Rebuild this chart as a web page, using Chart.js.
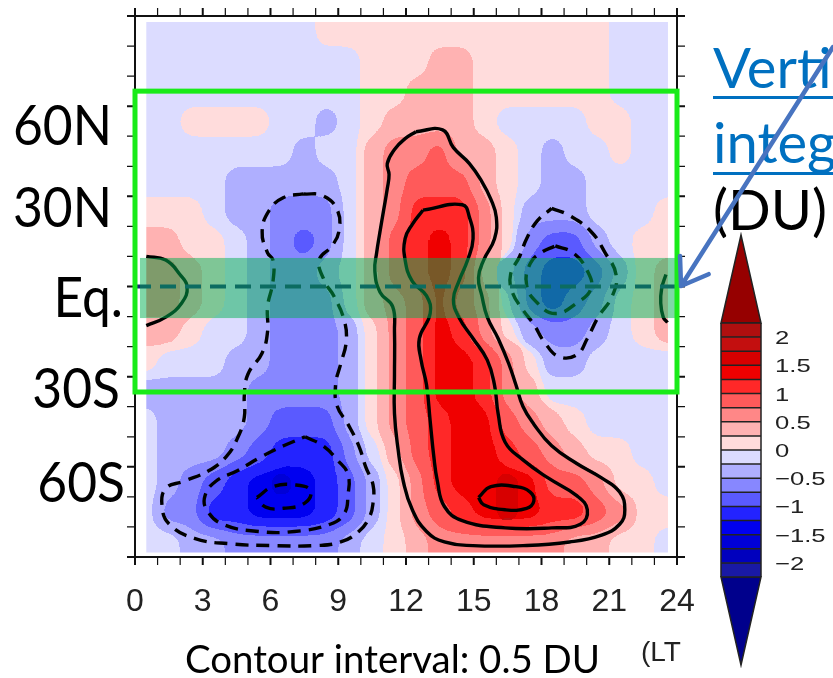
<!DOCTYPE html>
<html>
<head>
<meta charset="utf-8">
<script src="https://cdn.jsdelivr.net/npm/chart.js@4.4.1/dist/chart.umd.min.js"></script>
<style>
  html, body { margin: 0; padding: 0; background: #fff; }
  canvas { display: block; }
</style>
</head>
<body>
<canvas id="myChart" width="833" height="678"></canvas>
<script>
// grid cell centres: local time (h) and latitude (deg)
const ltCenters = [0.5, 1.5, 2.5, 3.5, 4.5, 5.5, 6.5, 7.5, 8.5, 9.5, 10.5, 11.5,
    12.5, 13.5, 14.5, 15.5, 16.5, 17.5, 18.5, 19.5, 20.5, 21.5, 22.5, 23.5];
const latCenters = [85, 75, 65, 55, 45, 35, 25, 15, 5, -5, -15, -25, -35, -45, -55, -65, -75, -85];

// ozone anomaly (DU), one row per latitude, north to south
const field = [
    [-0.1, -0.1, -0.1, -0.1, -0.1, -0.1, -0.1, -0.1, 0.1, 0.1, 0.1, 0.1, 0.1, 0.1, 0.1, 0.1, 0.1, 0.1, 0.1, 0.1, 0.1, -0.05, -0.1, -0.1],
    [-0.1, -0.1, -0.1, -0.1, -0.1, -0.1, -0.1, -0.1, -0.1, -0.05, 0.1, 0.15, 0.2, 0.3, 0.3, 0.2, 0.1, 0.1, 0.1, 0.1, 0.1, -0.05, -0.1, -0.1],
    [-0.1, -0.1, -0.1, -0.1, -0.1, -0.1, -0.1, -0.1, -0.1, -0.05, 0.1, 0.15, 0.3, 0.35, 0.25, 0.1, 0.05, 0.05, 0.05, 0.05, 0.05, -0.05, -0.1, -0.1],
    [-0.1, -0.1, 0.05, 0.05, 0.05, 0.05, -0.15, -0.2, -0.3, -0.1, 0.15, 0.35, 0.45, 0.45, 0.35, 0.15, -0.05, -0.1, -0.1, -0.05, 0.05, 0.05, -0.1, -0.1],
    [-0.1, -0.1, -0.1, -0.1, -0.1, -0.1, -0.15, -0.3, -0.25, -0.05, 0.25, 0.5, 0.7, 0.75, 0.45, 0.25, 0.05, -0.2, -0.3, -0.2, -0.05, 0.05, -0.05, -0.1],
    [-0.1, -0.1, -0.15, -0.25, -0.3, -0.35, -0.45, -0.45, -0.4, -0.15, 0.3, 0.6, 0.85, 0.95, 0.8, 0.45, 0.1, -0.25, -0.4, -0.3, -0.1, -0.05, -0.05, -0.1],
    [0.1, 0.1, 0.05, -0.1, -0.3, -0.45, -0.65, -0.75, -0.6, -0.25, 0.35, 0.7, 1.0, 1.15, 1.0, 0.65, 0.2, -0.3, -0.5, -0.4, -0.2, -0.05, -0.05, 0.05],
    [0.35, 0.3, 0.2, 0.05, -0.15, -0.45, -0.7, -0.8, -0.6, -0.2, 0.4, 0.8, 1.2, 1.35, 1.1, 0.7, 0.1, -0.55, -0.9, -0.8, -0.5, -0.2, 0.05, 0.15],
    [0.65, 0.55, 0.35, 0.1, -0.15, -0.4, -0.6, -0.7, -0.45, -0.1, 0.45, 0.8, 1.15, 1.3, 1.0, 0.4, -0.35, -1.0, -1.2, -1.1, -0.8, -0.35, 0.05, 0.45],
    [0.6, 0.55, 0.35, 0.15, -0.1, -0.35, -0.55, -0.65, -0.55, -0.2, 0.3, 0.7, 0.95, 1.3, 0.85, 0.5, -0.1, -0.8, -1.15, -1.0, -0.7, -0.25, 0.05, 0.45],
    [0.4, 0.25, 0.1, -0.05, -0.2, -0.4, -0.65, -0.75, -0.7, -0.4, 0.1, 0.5, 0.9, 1.3, 1.1, 0.65, 0.2, -0.35, -0.65, -0.6, -0.35, -0.1, 0.1, 0.25],
    [0.05, -0.05, -0.1, -0.2, -0.3, -0.5, -0.6, -0.65, -0.6, -0.35, 0.1, 0.5, 0.95, 1.35, 1.35, 1.05, 0.55, 0.15, -0.3, -0.35, -0.2, -0.1, -0.05, -0.05],
    [-0.3, -0.3, -0.3, -0.35, -0.45, -0.55, -0.6, -0.6, -0.55, -0.3, 0.05, 0.5, 0.85, 1.3, 1.45, 1.2, 0.7, 0.35, -0.05, -0.25, -0.15, -0.1, -0.05, -0.2],
    [-0.25, -0.3, -0.35, -0.4, -0.5, -0.7, -0.85, -0.9, -0.8, -0.45, 0.05, 0.5, 0.85, 1.2, 1.45, 1.35, 0.95, 0.55, 0.25, 0.05, -0.1, -0.1, -0.1, -0.1],
    [-0.2, -0.3, -0.35, -0.45, -0.6, -0.85, -1.1, -1.2, -1.05, -0.7, -0.15, 0.45, 0.8, 1.1, 1.4, 1.45, 1.05, 0.8, 0.55, 0.25, 0.1, 0.05, -0.05, -0.1],
    [-0.2, -0.4, -0.6, -0.9, -1.2, -1.35, -1.55, -1.4, -1.2, -0.8, -0.4, 0.2, 0.65, 1.05, 1.3, 1.45, 1.55, 1.3, 0.95, 0.75, 0.55, 0.2, 0.05, -0.05],
    [-0.15, -0.55, -0.75, -1.1, -1.25, -1.4, -1.5, -1.4, -1.25, -0.9, -0.45, 0.1, 0.55, 0.85, 1.2, 1.4, 1.5, 1.35, 1.2, 1.05, 0.8, 0.55, 0.2, 0.05],
    [-0.05, -0.25, -0.4, -0.5, -0.55, -0.6, -0.65, -0.65, -0.6, -0.45, -0.2, 0.05, 0.3, 0.5, 0.65, 0.7, 0.7, 0.65, 0.55, 0.4, 0.25, 0.1, 0.05, -0.05]
];

// shading levels and colours (below first level ... above last level)
const levels = [-2.25, -2, -1.75, -1.5, -1.25, -1, -0.75, -0.5, -0.25, 0,
    0.25, 0.5, 0.75, 1, 1.25, 1.5, 1.75, 2, 2.25];
const levelColors = [
    'rgb(0,0,140)', 'rgb(25,25,165)', 'rgb(0,0,190)', 'rgb(0,0,215)', 'rgb(0,0,240)',
    'rgb(35,35,255)', 'rgb(90,90,255)', 'rgb(135,135,255)', 'rgb(175,175,255)', 'rgb(220,220,255)',
    'rgb(255,220,220)', 'rgb(255,178,178)', 'rgb(255,135,135)', 'rgb(255,90,90)', 'rgb(255,40,40)',
    'rgb(240,0,0)', 'rgb(215,0,0)', 'rgb(195,15,15)', 'rgb(175,15,15)', 'rgb(150,0,0)'
];

const ltTicks = [0, 3, 6, 9, 12, 15, 18, 21, 24];
const ltTickLabels = ['0', '3', '6', '9', '12', '15', '18', '21', '24'];
const latLabels = ['60N', '30N', 'Eq.', '30S', '60S'];
const barLabelValues = [2, 1.5, 1, 0.5, 0, -0.5, -1, -1.5, -2];
const barLabels = ['2', '1.5', '1', '0.5', '0', '\u22120.5', '\u22121', '\u22121.5', '\u22122'];

// contour lines, [LT, lat] points
const contPos05 = [[12.44, 51.5], [13.62, 52.1], [14.10, 46.2], [14.81, 40.9], [15.36, 34.9], [15.76, 29.0],
    [16.00, 23.0], [15.92, 15.9], [15.44, 8.8], [15.21, 2.9], [15.36, -3.1], [15.60, -10.2], [16.08, -17.3],
    [16.55, -25.7], [16.87, -32.8], [17.18, -39.9], [17.66, -45.8], [18.45, -53.0], [19.56, -58.9],
    [20.66, -63.7], [21.46, -68.4], [21.69, -74.3], [21.46, -79.1], [20.66, -82.7], [19.24, -85.0],
    [17.18, -86.2], [14.97, -86.2], [13.70, -85.0], [12.91, -81.5], [12.28, -74.3], [11.88, -64.8],
    [11.65, -54.2], [11.49, -42.3], [11.49, -29.2], [11.49, -15.0], [11.41, -6.7], [10.85, -1.9],
    [10.62, 5.2], [10.70, 11.2], [10.85, 18.3], [11.01, 25.4], [11.17, 32.5], [11.25, 37.3],
    [11.17, 40.9], [11.49, 45.6], [11.96, 49.2]];
const contPos10 = [[12.75, 25.4], [14.49, 27.2], [14.81, 23.0], [14.97, 15.9], [14.73, 8.8], [14.34, 1.7],
    [14.10, -4.3], [14.34, -10.2], [14.97, -17.3], [15.60, -24.5], [15.92, -32.8], [16.08, -42.3],
    [16.39, -51.8], [17.18, -57.7], [18.29, -63.7], [19.56, -69.6], [20.03, -74.3], [19.72, -79.1],
    [18.45, -80.3], [16.39, -80.3], [14.49, -77.9], [13.70, -73.2], [13.39, -64.8], [13.23, -56.5],
    [13.07, -44.7], [12.91, -32.8], [12.67, -24.5], [12.59, -17.3], [13.07, -9.0], [12.91, -3.1],
    [12.28, 1.7], [11.96, 8.8], [11.96, 15.9], [12.28, 20.7]];
const contPos15 = [[15.21, -70.2], [15.76, -66.6], [16.87, -66.6], [17.50, -68.4], [17.66, -71.4],
    [17.34, -73.8], [16.39, -74.3], [15.44, -72.6]];
const contPosWest = [[0.5, 10.0], [1.36, 8.8], [1.99, 4.0], [2.31, -0.1], [2.07, -5.5], [1.36, -10.2], [0.5, -13.0]];
const contPosEast = [[23.51, 4.0], [23.32, -0.7], [23.28, -5.5], [23.39, -10.2], [23.58, -12.0]];
const contNeg05 = [[7.45, 30.8], [8.32, 30.2], [8.96, 25.4], [9.03, 18.3], [8.72, 13.5], [8.16, 8.8],
    [8.40, 1.7], [8.80, -3.1], [9.27, -11.4], [9.35, -18.5], [9.11, -25.7], [8.88, -32.8], [8.96, -39.9],
    [9.43, -45.8], [9.91, -53.0], [10.22, -60.1], [10.54, -66.0], [10.54, -72.0], [10.38, -76.7],
    [9.91, -81.5], [9.11, -85.0], [8.01, -86.2], [6.11, -86.2], [4.21, -85.6], [2.63, -83.8], [1.52, -79.1],
    [1.20, -73.2], [1.36, -67.2], [2.15, -64.8], [3.26, -61.3], [4.05, -56.5], [4.53, -50.6], [4.84, -43.5],
    [4.84, -36.3], [5.00, -29.2], [5.63, -22.1], [5.87, -15.0], [5.87, -6.7], [6.11, 1.7], [6.11, 8.8],
    [5.87, 11.2], [5.63, 18.3], [5.95, 25.4], [6.58, 29.6]];
const contNeg10 = [[7.53, -50.0], [8.32, -53.0], [8.96, -57.7], [9.43, -62.5], [9.43, -69.6], [9.27, -75.5],
    [8.64, -79.1], [7.06, -81.5], [5.47, -81.5], [3.89, -79.1], [3.18, -74.3], [3.10, -69.6], [3.58, -64.8],
    [4.53, -61.3], [5.63, -56.5], [6.58, -53.0]];
const contNeg15 = [[5.40, -70.2], [6.11, -66.6], [7.06, -66.0], [7.77, -67.8], [7.53, -72.0], [6.58, -73.8], [5.79, -73.4]];
const contNeg05East = [[18.45, 26.0], [19.24, 23.6], [20.19, 18.3], [20.82, 11.2], [21.30, 4.0], [21.14, -3.1],
    [20.51, -10.2], [20.03, -17.3], [19.56, -22.7], [18.77, -23.3], [18.13, -18.5], [17.66, -12.6],
    [17.18, -7.8], [16.71, -1.9], [16.63, 4.0], [17.03, 10.0], [17.34, 15.9], [17.82, 21.9]];
const contNeg10East = [[18.61, 13.5], [19.40, 11.2], [20.03, 5.2], [20.19, -0.7], [19.56, -5.5], [18.61, -9.0],
    [17.82, -5.5], [17.34, 0.5], [17.50, 7.6], [17.97, 11.2]];


function colorFor(v) {
    let i = 0;
    while (i < levels.length && v >= levels[i]) i++;
    return levelColors[i];
}

function contourSet(pts, dashed, closed) {
    const data = pts.map(p => ({x: p[0], y: p[1]}));
    if (closed) data.push({x: pts[0][0], y: pts[0][1]});
    return {
        type: 'line',
        data: data,
        borderColor: '#000',
        borderWidth: 3.4,
        borderDash: dashed ? [13, 8] : [],
        borderCapStyle: 'butt',
        pointRadius: 0,
        tension: 0.45,
        fill: false,
        order: 1
    };
}

const heatSets = latCenters.map((lat, r) => ({
    type: 'bar',
    data: ltCenters.map(lt => ({x: lt, y: [lat - 5, lat + 5]})),
    backgroundColor: field[r].map(colorFor),
    borderWidth: 0,
    inflateAmount: 0.4,
    barPercentage: 1,
    categoryPercentage: 1,
    grouped: false,
    order: 2
}));

const lineSets = [
    contourSet(contPos05, false, true),
    contourSet(contPos10, false, true),
    contourSet(contPos15, false, true),
    contourSet(contPosWest, false, false),
    contourSet(contPosEast, false, false),
    contourSet(contNeg05, true, true),
    contourSet(contNeg10, true, true),
    contourSet(contNeg15, true, true),
    contourSet(contNeg05East, true, true),
    contourSet(contNeg10East, true, true)
];

const palette = levelColors.map(c => c.match(/\d+/g).map(Number));

function drawText(ctx, str, x, y, font, color, align, sx) {
    ctx.save();
    ctx.font = font;
    ctx.fillStyle = color;
    ctx.textAlign = align || 'left';
    ctx.textBaseline = 'alphabetic';
    ctx.translate(x, y);
    ctx.scale(sx || 1, 1);
    ctx.fillText(str, 0, 0);
    ctx.restore();
}

// soften the blocky cells into contour-like bands, then trim to the data frame
function smoothCells(chart) {
    const {ctx, chartArea: a, scales: {x, y}} = chart;
    const cv = chart.canvas;
    const L = Math.round(a.left), T = Math.round(a.top);
    const W = Math.round(a.right - a.left), H = Math.round(a.bottom - a.top);
    const p = 30;
    const pad = document.createElement('canvas');
    pad.width = W + 2 * p; pad.height = H + 2 * p;
    const pc = pad.getContext('2d');
    pc.drawImage(cv, L, T, W, H, p, p, W, H);
    pc.drawImage(cv, L + 1, T, 1, H, 0, p, p, H);
    pc.drawImage(cv, L + W - 2, T, 1, H, p + W, p, p, H);
    pc.drawImage(pad, 0, p + 1, W + 2 * p, 1, 0, 0, W + 2 * p, p);
    pc.drawImage(pad, 0, p + H - 2, W + 2 * p, 1, 0, p + H, W + 2 * p, p);

    const bl = document.createElement('canvas');
    bl.width = pad.width; bl.height = pad.height;
    const bc = bl.getContext('2d', {willReadFrequently: true});
    bc.filter = 'blur(9px)';
    bc.drawImage(pad, 0, 0);
    bc.filter = 'none';
    const img = bc.getImageData(p, p, W, H);
    const d = img.data;
    for (let i = 0; i < d.length; i += 4) {
        let best = 0, bestD = 1e9;
        for (let k = 0; k < palette.length; k++) {
            const c = palette[k];
            const dr = d[i] - c[0], dg = d[i + 1] - c[1], db = d[i + 2] - c[2];
            const dd = dr * dr + dg * dg + db * db;
            if (dd < bestD) { bestD = dd; best = k; }
        }
        d[i] = palette[best][0]; d[i + 1] = palette[best][1]; d[i + 2] = palette[best][2]; d[i + 3] = 255;
    }
    bc.putImageData(img, p, p);

    const fl = x.getPixelForValue(0.5), fr = x.getPixelForValue(23.6);
    const ft = y.getPixelForValue(88), fb = y.getPixelForValue(-88.5);
    ctx.save();
    ctx.fillStyle = '#fff';
    ctx.fillRect(a.left, a.top, a.right - a.left, a.bottom - a.top);
    ctx.beginPath();
    ctx.rect(fl, ft, fr - fl, fb - ft);
    ctx.clip();
    ctx.drawImage(bl, p, p, W, H, L, T, W, H);
    ctx.restore();
}

const overlay = {
    id: 'overlay',
    afterDatasetDraw(chart, args) {
        if (args.index === 0) smoothCells(chart);
    },
    afterDatasetsDraw(chart) {
        const {ctx, chartArea: a, scales: {x, y}} = chart;

        // equator dashed line, under the green band
        ctx.save();
        ctx.strokeStyle = 'rgb(25,40,115)';
        ctx.lineWidth = 4;
        ctx.setLineDash([16, 9]);
        ctx.beginPath();
        ctx.moveTo(x.getPixelForValue(0), y.getPixelForValue(0));
        ctx.lineTo(x.getPixelForValue(24), y.getPixelForValue(0));
        ctx.stroke();
        ctx.restore();

        // translucent band around the equator
        ctx.fillStyle = 'rgba(0,176,80,0.5)';
        ctx.fillRect(x.getPixelForValue(0.22), y.getPixelForValue(9.5),
            x.getPixelForValue(24.05) - x.getPixelForValue(0.22),
            y.getPixelForValue(-10.5) - y.getPixelForValue(9.5));

        // frame and ticks
        ctx.strokeStyle = '#111';
        ctx.lineWidth = 2;
        ctx.strokeRect(a.left, a.top, a.right - a.left, a.bottom - a.top);
        for (let h = 0; h <= 24; h++) {
            const px = x.getPixelForValue(h);
            ctx.lineWidth = h % 3 === 0 ? 2 : 1.2;
            ctx.beginPath();
            ctx.moveTo(px, a.bottom); ctx.lineTo(px, a.bottom + 8);
            ctx.moveTo(px, a.top); ctx.lineTo(px, a.top - 8);
            ctx.stroke();
        }
        for (let lat = -90; lat <= 90; lat += 10) {
            const py = y.getPixelForValue(lat);
            ctx.lineWidth = lat % 30 === 0 ? 2 : 1.2;
            ctx.beginPath();
            ctx.moveTo(a.left, py); ctx.lineTo(a.left - 8, py);
            ctx.moveTo(a.right, py); ctx.lineTo(a.right + 8, py);
            ctx.stroke();
        }

        // green box
        ctx.strokeStyle = 'rgb(25,235,25)';
        ctx.lineWidth = 5;
        ctx.strokeRect(x.getPixelForValue(0), y.getPixelForValue(65),
            x.getPixelForValue(24) - x.getPixelForValue(0),
            y.getPixelForValue(-35.1) - y.getPixelForValue(65));

        // LT tick labels
        ltTicks.forEach((h, i) => {
            drawText(ctx, ltTickLabels[i], x.getPixelForValue(h), 611, '32px "Liberation Sans"', '#222', 'center');
        });
        drawText(ctx, '(LT', 641, 661, '28px "Liberation Sans"', '#222', 'left');

        // latitude labels (slide annotations)
        const latFont = '57px Lato';
        ctx.font = latFont;
        const sLat = 99 / ctx.measureText('60N').width;
        const latRight = [112, 112, 123, 120, 125];
        const latBase = [145, 227, 317, 408, 502];
        latLabels.forEach((t, i) => drawText(ctx, t, latRight[i], latBase[i], latFont, '#000', 'right', sLat));

        // colour bar
        const cbL = 721, cbR = 761, cbT = 323, cbB = 577;
        const cbY = v => cbT + (levels[levels.length - 1] - v) / (levels[levels.length - 1] - levels[0]) * (cbB - cbT);
        const mid = (cbL + cbR) / 2;
        ctx.lineWidth = 1.5;
        ctx.strokeStyle = '#222';
        ctx.fillStyle = levelColors[levelColors.length - 1];
        ctx.beginPath();
        ctx.moveTo(cbL, cbT); ctx.lineTo(mid, 235); ctx.lineTo(cbR, cbT); ctx.closePath();
        ctx.fill(); ctx.stroke();
        ctx.fillStyle = levelColors[0];
        ctx.beginPath();
        ctx.moveTo(cbL, cbB); ctx.lineTo(mid, 665); ctx.lineTo(cbR, cbB); ctx.closePath();
        ctx.fill(); ctx.stroke();
        for (let i = 0; i < levels.length - 1; i++) {
            const y0 = cbY(levels[i + 1]), y1 = cbY(levels[i]);
            ctx.fillStyle = levelColors[i + 1];
            ctx.fillRect(cbL, y0, cbR - cbL, y1 - y0);
        }
        ctx.beginPath();
        levels.forEach(v => { ctx.moveTo(cbL, cbY(v)); ctx.lineTo(cbR, cbY(v)); });
        ctx.moveTo(cbL, cbT); ctx.lineTo(cbL, cbB);
        ctx.moveTo(cbR, cbT); ctx.lineTo(cbR, cbB);
        ctx.stroke();
        barLabelValues.forEach((v, i) => {
            drawText(ctx, barLabels[i], 775, cbY(v) + 7, '19px "Liberation Sans"', '#222', 'left', 1.35);
        });

        // title text on the right
        const tFont = '56px Lato';
        ctx.font = tFont;
        const sT = 114 / ctx.measureText('(DU)').width;
        drawText(ctx, 'Verti', 713, 88, tFont, 'rgb(0,112,192)', 'left', sT);
        drawText(ctx, 'integ', 713, 163, tFont, 'rgb(0,112,192)', 'left', sT);
        drawText(ctx, '(DU)', 713, 230, tFont, '#000', 'left', sT);
        ctx.fillStyle = 'rgb(0,112,192)';
        ctx.fillRect(713, 96, 120, 3);
        ctx.fillRect(713, 172, 120, 3);

        // arrow
        const ax0 = 833, ay0 = 47, ax1 = 681, ay1 = 286;
        const ang = Math.atan2(ay1 - ay0, ax1 - ax0);
        ctx.save();
        ctx.strokeStyle = 'rgb(72,116,192)';
        ctx.lineWidth = 4.5;
        ctx.lineCap = 'round';
        ctx.lineJoin = 'round';
        ctx.beginPath();
        ctx.moveTo(ax0, ay0); ctx.lineTo(ax1, ay1);
        ctx.moveTo(ax1 - 30 * Math.cos(ang - 0.6), ay1 - 30 * Math.sin(ang - 0.6));
        ctx.lineTo(ax1, ay1);
        ctx.lineTo(ax1 - 30 * Math.cos(ang + 0.6), ay1 - 30 * Math.sin(ang + 0.6));
        ctx.stroke();
        ctx.restore();

        // caption
        const cFont = '38px Lato';
        ctx.font = cFont;
        const cap = 'Contour interval: 0.5 DU';
        drawText(ctx, cap, 185, 673, cFont, '#000', 'left', 415 / ctx.measureText(cap).width);
    }
};

new Chart(document.getElementById('myChart'), {
    type: 'bar',
    data: { datasets: heatSets.concat(lineSets) },
    options: {
        responsive: false,
        animation: false,
        devicePixelRatio: 1,
        layout: { padding: { left: 135, top: 16, right: 156, bottom: 121 } },
        plugins: { legend: { display: false }, tooltip: { enabled: false } },
        scales: {
            x: { type: 'linear', min: 0, max: 24, offset: false, display: false },
            y: { type: 'linear', min: -90, max: 90, display: false }
        }
    },
    plugins: [overlay]
});
</script>
</body>
</html>
